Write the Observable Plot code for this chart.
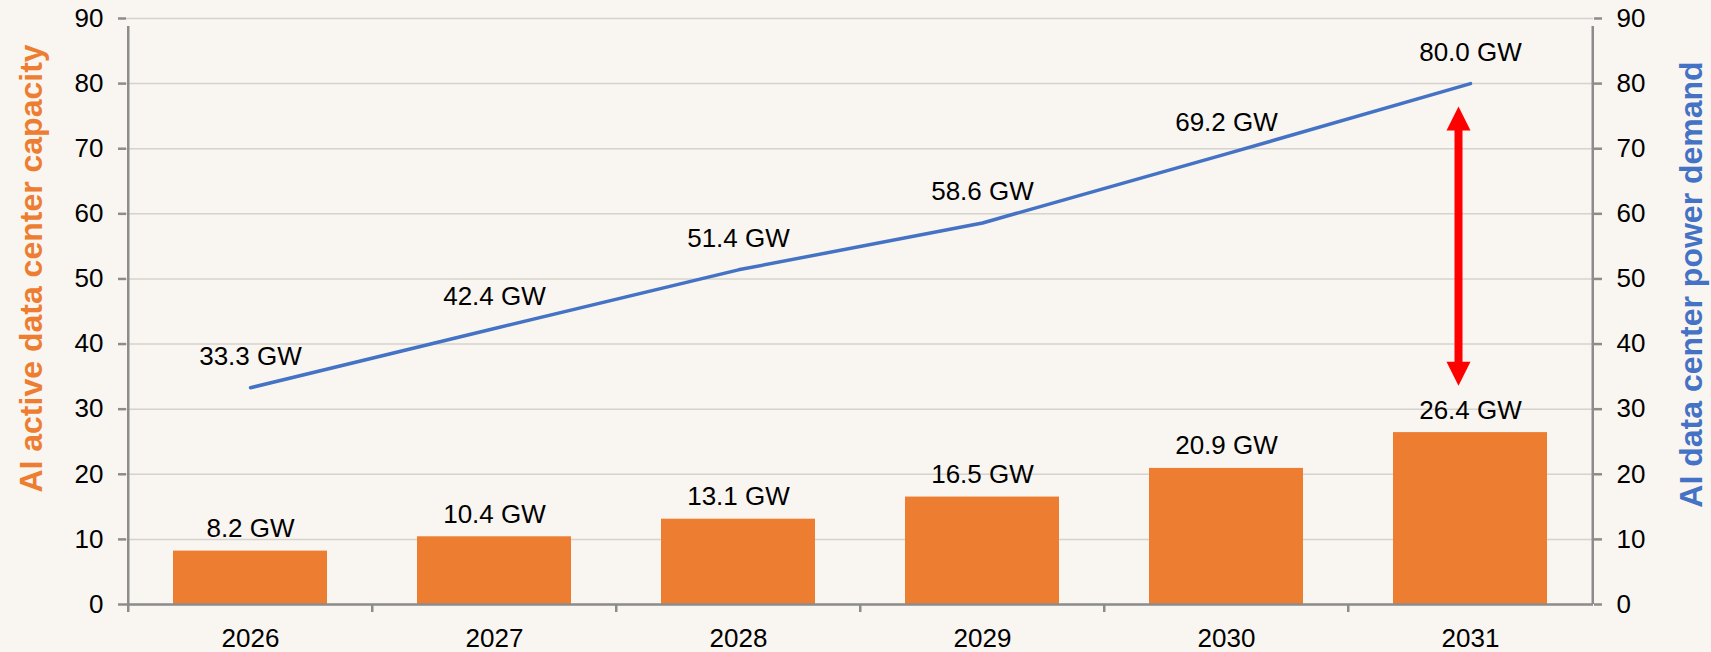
<!DOCTYPE html>
<html>
<head>
<meta charset="utf-8">
<script src="https://cdn.jsdelivr.net/npm/d3@7"></script>
<script src="https://cdn.jsdelivr.net/npm/@observablehq/plot@0.6"></script>
<style>
  html, body { margin: 0; padding: 0; background: #f9f5f0; }
  #chart svg { display: block; }
</style>
</head>
<body>
<div id="chart"></div>
<script>
// ---- data ----
const years = ["2026", "2027", "2028", "2029", "2030", "2031"];
const capacityGW = [8.2, 10.4, 13.1, 16.5, 20.9, 26.4];
const demandGW = [33.3, 42.4, 51.4, 58.6, 69.2, 80.0];
const yTicks = [0, 10, 20, 30, 40, 50, 60, 70, 80, 90];
const leftTitle = "AI active data center capacity";
const rightTitle = "AI data center power demand";
const arrowYear = ["2031"];
const arrowLow = [33.6];
const arrowHigh = [76.5];

const rows = years.map((year, i) => ({year, capacity: capacityGW[i], demand: demandGW[i]}));
const arrowRows = arrowYear.map((year, i) => ({year, low: arrowLow[i], high: arrowHigh[i]}));

const W = 1711, H = 652, ML = 126, MR = 118, MT = 18, MB = 48;
const step = (W - ML - MR) / years.length;
const bg = "#f9f5f0";
const axisGray = "#8c8c8c";
const orange = "#ED7D31";
const blue = "#4472C4";
const red = "#FF0000";

const headUp = {draw(ctx) { ctx.moveTo(0, 0); ctx.lineTo(-12, 24); ctx.lineTo(12, 24); ctx.closePath(); }};
const headDown = {draw(ctx) { ctx.moveTo(0, 0); ctx.lineTo(-12, -24); ctx.lineTo(12, -24); ctx.closePath(); }};

const chart = Plot.plot({
  width: W, height: H,
  marginLeft: ML, marginRight: MR, marginTop: MT, marginBottom: MB,
  style: {background: bg, fontFamily: "'Liberation Sans', Arial, sans-serif", fontSize: "26px", color: "#000"},
  x: {domain: years, paddingInner: 0.37, paddingOuter: 0.185},
  y: {domain: [0, 90]},
  marks: [
    Plot.gridY(yTicks, {stroke: "#d6d3ce", strokeOpacity: 1, strokeWidth: 1.5}),
    Plot.barY(rows, {x: "year", y: "capacity", fill: orange}),
    // category boundary ticks below the x axis
    Plot.ruleX(years, {x: d => d, dx: -step / 2, y1: 0, y2: 0, insetBottom: -8, stroke: axisGray, strokeWidth: 2.5}),
    // left and right axis lines
    Plot.ruleX([years[0]], {x: d => d, dx: -step / 2, y1: 0, y2: 90, insetBottom: -8, stroke: axisGray, strokeWidth: 2.5}),
    Plot.ruleX([years[years.length - 1]], {x: d => d, dx: step / 2, y1: 0, y2: 90, insetBottom: -8, stroke: axisGray, strokeWidth: 2.5}),
    Plot.ruleY([0], {stroke: axisGray, strokeWidth: 2.5}),
    Plot.axisY(yTicks, {anchor: "left", tickSize: 8, tickPadding: 15, stroke: axisGray, strokeWidth: 2.5, fill: "#000", fontSize: 26, label: null}),
    Plot.axisY(yTicks, {anchor: "right", tickSize: 8, tickPadding: 15, stroke: axisGray, strokeWidth: 2.5, fill: "#000", fontSize: 26, label: null}),
    Plot.axisX({tickSize: 0, tickPadding: 24, fill: "#000", fontSize: 26, label: null}),
    Plot.line(rows, {x: "year", y: "demand", stroke: blue, strokeWidth: 3.5}),
    Plot.text(rows, {x: "year", y: "demand", text: d => d.demand.toFixed(1) + " GW", lineAnchor: "bottom", dy: -23, fill: "#000", fontSize: 26}),
    Plot.text(rows, {x: "year", y: "capacity", text: d => d.capacity.toFixed(1) + " GW", lineAnchor: "bottom", dy: -14, fill: "#000", fontSize: 26}),
    // double-headed arrow
    Plot.ruleX(arrowRows, {x: "year", y1: "high", y2: "low", dx: -12, insetTop: 20, insetBottom: 20, stroke: red, strokeWidth: 8}),
    Plot.dot(arrowRows, {x: "year", y: "high", dx: -12, symbol: headUp, fill: red, stroke: "none"}),
    Plot.dot(arrowRows, {x: "year", y: "low", dx: -12, symbol: headDown, fill: red, stroke: "none"}),
    // axis titles
    Plot.text([leftTitle], {frameAnchor: "left", text: d => d, rotate: -90, textAnchor: "middle", dx: -95, dy: -43, fill: orange, fontWeight: "bold", fontSize: 32}),
    Plot.text([rightTitle], {frameAnchor: "right", text: d => d, rotate: -90, textAnchor: "middle", dx: 98, dy: -27, fill: blue, fontWeight: "bold", fontSize: 32})
  ]
});
document.getElementById("chart").appendChild(chart);
</script>
</body>
</html>
